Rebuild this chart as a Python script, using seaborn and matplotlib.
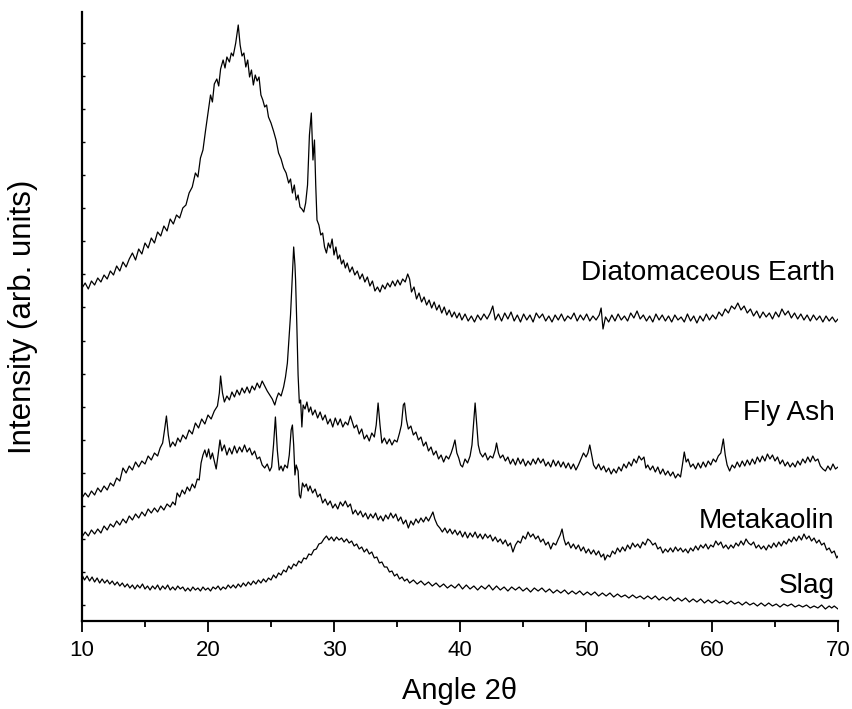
import numpy as np
import pandas as pd
import matplotlib
matplotlib.use("Agg")
import matplotlib.pyplot as plt
import seaborn as sns

# ---------------- data: (angle 2theta, intensity in arb. units, stacked patterns) ----------------
de_data = [
    (10.0, 317), (10.25, 322), (10.5, 316), (10.75, 324), (11.0, 320), (11.25, 327), (11.5, 323), (11.75, 330),
    (12.0, 326), (12.25, 334), (12.5, 330), (12.75, 339), (13.0, 334), (13.25, 343), (13.5, 338), (13.75, 346),
    (14.0, 352), (14.25, 345), (14.5, 356), (14.75, 351), (15.0, 362), (15.25, 357), (15.5, 367), (15.75, 362),
    (16.0, 373), (16.25, 369), (16.5, 379), (16.75, 374), (17.0, 386), (17.25, 381), (17.5, 390), (17.75, 387),
    (18.0, 397), (18.25, 400), (18.5, 412), (18.75, 418), (19.0, 432), (19.2, 428), (19.4, 447), (19.6, 455),
    (19.8, 474), (20.0, 492), (20.2, 510), (20.35, 503), (20.5, 521), (20.7, 526), (20.85, 519), (21.0, 536),
    (21.2, 545), (21.35, 537), (21.5, 548), (21.7, 543), (21.85, 552), (22.0, 549), (22.2, 562), (22.4, 580),
    (22.55, 560), (22.7, 549), (22.85, 552), (23.0, 538), (23.15, 545), (23.3, 528), (23.45, 535), (23.6, 520),
    (23.75, 530), (23.9, 524), (24.05, 528), (24.2, 510), (24.35, 505), (24.5, 498), (24.65, 500), (24.8, 488),
    (25.0, 482), (25.2, 474), (25.4, 465), (25.6, 452), (25.8, 446), (26.0, 437), (26.2, 432), (26.4, 422),
    (26.55, 426), (26.7, 412), (26.85, 420), (27.0, 405), (27.15, 410), (27.3, 398), (27.45, 396), (27.6, 393),
    (27.75, 402), (27.9, 420), (28.05, 470), (28.2, 492), (28.33, 445), (28.45, 465), (28.55, 420), (28.65, 385),
    (28.8, 380), (28.95, 370), (29.1, 372), (29.25, 358), (29.4, 352), (29.55, 362), (29.7, 357), (29.85, 366),
    (30.0, 350), (30.15, 358), (30.3, 346), (30.45, 350), (30.6, 341), (30.75, 345), (30.9, 337), (31.05, 342),
    (31.25, 333), (31.45, 338), (31.65, 330), (31.85, 334), (32.05, 326), (32.25, 331), (32.45, 323), (32.65, 328),
    (32.85, 319), (33.05, 324), (33.25, 314), (33.45, 318), (33.65, 313), (33.85, 320), (34.05, 316), (34.25, 322),
    (34.45, 318), (34.65, 324), (34.85, 319), (35.05, 325), (35.25, 320), (35.45, 326), (35.65, 323), (35.85, 331),
    (36.0, 326), (36.15, 313), (36.35, 318), (36.55, 306), (36.75, 312), (36.95, 303), (37.15, 308), (37.35, 300),
    (37.55, 305), (37.75, 297), (37.95, 303), (38.15, 295), (38.35, 300), (38.55, 292), (38.75, 298), (38.95, 290),
    (39.15, 295), (39.35, 288), (39.55, 293), (39.75, 287), (39.95, 292), (40.15, 285), (40.4, 291), (40.65, 284),
    (40.9, 289), (41.15, 283), (41.4, 290), (41.65, 285), (41.9, 291), (42.15, 286), (42.4, 292), (42.6, 299),
    (42.8, 285), (43.05, 291), (43.3, 284), (43.55, 292), (43.8, 286), (44.05, 293), (44.3, 284), (44.55, 290),
    (44.8, 283), (45.05, 291), (45.3, 285), (45.55, 290), (45.8, 283), (46.05, 292), (46.3, 287), (46.55, 291),
    (46.8, 284), (47.05, 289), (47.3, 283), (47.55, 290), (47.8, 285), (48.05, 291), (48.3, 284), (48.55, 289),
    (48.8, 286), (49.05, 292), (49.3, 284), (49.55, 290), (49.8, 285), (50.05, 291), (50.3, 284), (50.55, 289),
    (50.8, 285), (51.05, 290), (51.2, 297), (51.35, 276), (51.55, 288), (51.8, 283), (52.05, 290), (52.3, 284),
    (52.55, 291), (52.8, 285), (53.05, 289), (53.3, 284), (53.55, 292), (53.8, 287), (54.05, 294), (54.3, 286),
    (54.55, 290), (54.8, 284), (55.05, 289), (55.3, 283), (55.55, 291), (55.8, 285), (56.05, 290), (56.3, 284),
    (56.55, 289), (56.8, 283), (57.05, 290), (57.3, 285), (57.55, 288), (57.8, 283), (58.05, 291), (58.3, 284),
    (58.55, 289), (58.8, 282), (59.05, 289), (59.3, 284), (59.55, 291), (59.8, 285), (60.05, 290), (60.3, 286),
    (60.55, 293), (60.8, 289), (61.05, 296), (61.3, 292), (61.55, 299), (61.8, 296), (62.05, 302), (62.3, 295),
    (62.55, 299), (62.8, 292), (63.05, 296), (63.3, 289), (63.55, 294), (63.8, 287), (64.05, 293), (64.3, 288),
    (64.55, 292), (64.8, 286), (65.05, 293), (65.3, 288), (65.55, 296), (65.8, 290), (66.05, 294), (66.3, 287),
    (66.55, 292), (66.8, 286), (67.05, 291), (67.3, 285), (67.55, 290), (67.8, 284), (68.05, 290), (68.3, 285),
    (68.55, 289), (68.8, 283), (69.05, 289), (69.3, 284), (69.55, 288), (69.8, 283), (70.0, 286),
]

fa_data = [
    (10.0, 107), (10.25, 112), (10.5, 108), (10.75, 114), (11.0, 110), (11.25, 117), (11.5, 113), (11.75, 119),
    (12.0, 115), (12.25, 122), (12.5, 119), (12.75, 127), (13.0, 124), (13.25, 137), (13.5, 132), (13.75, 139),
    (14.0, 135), (14.25, 143), (14.5, 138), (14.75, 144), (15.0, 141), (15.25, 149), (15.5, 145), (15.75, 152),
    (16.0, 149), (16.2, 157), (16.4, 162), (16.55, 175), (16.7, 189), (16.85, 170), (17.0, 158), (17.2, 163),
    (17.4, 159), (17.6, 167), (17.8, 163), (18.0, 170), (18.25, 166), (18.5, 175), (18.75, 171), (19.0, 182),
    (19.25, 177), (19.5, 186), (19.75, 181), (20.0, 190), (20.25, 186), (20.5, 194), (20.75, 199), (20.9, 212),
    (21.0, 229), (21.15, 212), (21.3, 203), (21.5, 209), (21.7, 205), (21.9, 213), (22.1, 208), (22.3, 215),
    (22.5, 210), (22.7, 217), (22.9, 212), (23.1, 218), (23.3, 212), (23.5, 219), (23.7, 215), (23.9, 222),
    (24.1, 217), (24.3, 224), (24.5, 219), (24.7, 214), (24.9, 210), (25.1, 206), (25.3, 200), (25.45, 207),
    (25.6, 212), (25.8, 209), (26.0, 218), (26.15, 228), (26.3, 242), (26.45, 270), (26.55, 290), (26.65, 317),
    (26.8, 358), (26.9, 340), (26.95, 325), (27.05, 280), (27.15, 230), (27.25, 202), (27.35, 205), (27.45, 178),
    (27.55, 200), (27.7, 196), (27.85, 203), (28.0, 193), (28.15, 198), (28.3, 190), (28.5, 195), (28.7, 187),
    (28.9, 193), (29.1, 185), (29.3, 190), (29.5, 181), (29.7, 186), (29.9, 178), (30.1, 187), (30.3, 180),
    (30.5, 186), (30.7, 178), (30.9, 183), (31.1, 180), (31.3, 189), (31.45, 183), (31.6, 177), (31.8, 180),
    (32.0, 171), (32.2, 176), (32.4, 166), (32.6, 170), (32.8, 164), (33.0, 172), (33.2, 168), (33.35, 180),
    (33.5, 202), (33.65, 180), (33.8, 162), (34.0, 167), (34.2, 161), (34.4, 166), (34.6, 160), (34.8, 165),
    (35.0, 163), (35.2, 172), (35.35, 180), (35.5, 200), (35.6, 202), (35.75, 185), (35.9, 176), (36.1, 179),
    (36.3, 170), (36.5, 173), (36.7, 165), (36.9, 168), (37.1, 159), (37.3, 163), (37.5, 154), (37.7, 158),
    (37.9, 150), (38.1, 154), (38.3, 146), (38.5, 150), (38.7, 143), (38.9, 149), (39.1, 146), (39.3, 152),
    (39.45, 158), (39.6, 165), (39.75, 152), (39.9, 147), (40.05, 140), (40.2, 138), (40.4, 146), (40.6, 142),
    (40.8, 149), (40.95, 160), (41.1, 185), (41.2, 202), (41.3, 185), (41.45, 160), (41.6, 152), (41.8, 148),
    (42.0, 152), (42.2, 145), (42.4, 149), (42.6, 147), (42.8, 155), (42.9, 162), (43.05, 152), (43.2, 147),
    (43.4, 150), (43.6, 144), (43.8, 148), (44.0, 141), (44.2, 146), (44.4, 140), (44.6, 147), (44.8, 141),
    (45.0, 146), (45.2, 139), (45.4, 144), (45.6, 140), (45.8, 146), (46.0, 141), (46.2, 147), (46.4, 142),
    (46.6, 146), (46.8, 139), (47.0, 143), (47.2, 138), (47.4, 145), (47.6, 139), (47.8, 144), (48.0, 138),
    (48.2, 143), (48.4, 137), (48.6, 142), (48.8, 136), (49.0, 141), (49.2, 135), (49.4, 140), (49.6, 146),
    (49.8, 152), (50.0, 148), (50.15, 152), (50.3, 160), (50.45, 150), (50.6, 140), (50.8, 136), (51.0, 141),
    (51.2, 135), (51.4, 139), (51.6, 133), (51.8, 137), (52.0, 131), (52.2, 136), (52.4, 132), (52.6, 138),
    (52.8, 134), (53.0, 141), (53.2, 137), (53.4, 143), (53.6, 139), (53.8, 146), (54.0, 142), (54.2, 149),
    (54.4, 145), (54.6, 148), (54.75, 137), (54.9, 140), (55.1, 135), (55.3, 139), (55.5, 133), (55.7, 138),
    (55.9, 131), (56.1, 136), (56.3, 130), (56.5, 134), (56.7, 129), (56.9, 133), (57.1, 127), (57.3, 131),
    (57.5, 128), (57.65, 140), (57.8, 153), (57.95, 143), (58.1, 146), (58.3, 138), (58.5, 141), (58.7, 136),
    (58.9, 142), (59.1, 137), (59.3, 143), (59.5, 138), (59.7, 144), (59.9, 140), (60.1, 146), (60.3, 143),
    (60.5, 149), (60.7, 152), (60.9, 166), (61.05, 150), (61.2, 140), (61.4, 134), (61.6, 140), (61.8, 137),
    (62.0, 143), (62.2, 138), (62.4, 144), (62.6, 139), (62.8, 145), (63.0, 140), (63.2, 146), (63.4, 141),
    (63.6, 148), (63.8, 143), (64.0, 149), (64.2, 144), (64.4, 151), (64.6, 146), (64.8, 150), (65.0, 144),
    (65.2, 148), (65.4, 141), (65.6, 145), (65.8, 139), (66.0, 143), (66.2, 138), (66.4, 142), (66.6, 138),
    (66.8, 144), (67.0, 140), (67.2, 146), (67.4, 142), (67.6, 148), (67.8, 143), (68.0, 149), (68.2, 144),
    (68.4, 146), (68.6, 139), (68.8, 136), (69.0, 134), (69.2, 139), (69.4, 135), (69.6, 141), (69.8, 136),
    (70.0, 138),
]

mk_data = [
    (10.0, 68), (10.25, 73), (10.5, 69), (10.75, 75), (11.0, 71), (11.25, 76), (11.5, 72), (11.75, 79),
    (12.0, 75), (12.25, 81), (12.5, 78), (12.75, 84), (13.0, 80), (13.25, 86), (13.5, 82), (13.75, 89),
    (14.0, 85), (14.25, 91), (14.5, 87), (14.75, 93), (15.0, 89), (15.25, 96), (15.5, 92), (15.75, 97),
    (16.0, 93), (16.25, 99), (16.5, 95), (16.75, 101), (17.0, 98), (17.2, 103), (17.4, 100), (17.55, 112),
    (17.75, 108), (17.95, 115), (18.15, 111), (18.35, 118), (18.55, 114), (18.75, 121), (18.95, 117), (19.15, 126),
    (19.3, 125), (19.45, 142), (19.6, 150), (19.75, 155), (19.9, 148), (20.05, 156), (20.2, 146), (20.35, 152),
    (20.5, 144), (20.65, 136), (20.8, 150), (20.95, 165), (21.1, 154), (21.3, 160), (21.5, 150), (21.7, 157),
    (21.9, 151), (22.1, 159), (22.3, 152), (22.5, 158), (22.7, 153), (22.9, 160), (23.1, 153), (23.3, 157),
    (23.5, 150), (23.7, 154), (23.9, 146), (24.1, 148), (24.3, 140), (24.5, 137), (24.7, 141), (24.9, 134),
    (25.05, 138), (25.2, 160), (25.35, 188), (25.5, 155), (25.65, 135), (25.8, 139), (25.95, 134), (26.1, 140),
    (26.3, 137), (26.45, 150), (26.6, 175), (26.7, 180), (26.8, 160), (26.9, 130), (27.0, 140), (27.15, 134),
    (27.25, 110), (27.35, 107), (27.5, 122), (27.65, 118), (27.8, 121), (27.95, 114), (28.1, 119), (28.3, 112),
    (28.5, 116), (28.7, 108), (28.9, 111), (29.1, 102), (29.3, 106), (29.5, 100), (29.7, 104), (29.9, 97),
    (30.1, 101), (30.3, 96), (30.5, 103), (30.7, 99), (30.9, 104), (31.1, 98), (31.3, 101), (31.5, 91),
    (31.7, 95), (31.9, 90), (32.1, 94), (32.3, 88), (32.5, 92), (32.7, 86), (32.9, 91), (33.1, 87),
    (33.3, 92), (33.5, 85), (33.7, 89), (33.9, 84), (34.1, 90), (34.3, 86), (34.5, 92), (34.7, 87),
    (34.9, 91), (35.1, 84), (35.3, 88), (35.5, 81), (35.7, 85), (35.9, 77), (36.1, 84), (36.3, 80),
    (36.5, 86), (36.7, 82), (36.9, 87), (37.1, 83), (37.3, 88), (37.5, 84), (37.7, 89), (37.85, 93),
    (38.0, 86), (38.2, 80), (38.4, 77), (38.6, 73), (38.8, 77), (39.0, 72), (39.2, 76), (39.4, 71),
    (39.6, 75), (39.8, 70), (40.0, 74), (40.2, 68), (40.4, 73), (40.6, 67), (40.8, 72), (41.0, 68),
    (41.2, 73), (41.4, 67), (41.6, 71), (41.8, 66), (42.0, 71), (42.2, 67), (42.4, 70), (42.6, 64),
    (42.8, 68), (43.0, 63), (43.2, 66), (43.4, 61), (43.6, 65), (43.8, 59), (44.0, 62), (44.2, 53),
    (44.4, 60), (44.6, 64), (44.8, 62), (45.0, 69), (45.2, 66), (45.4, 73), (45.6, 68), (45.8, 71),
    (46.0, 66), (46.2, 69), (46.4, 63), (46.6, 66), (46.8, 60), (47.0, 63), (47.2, 56), (47.4, 62),
    (47.6, 60), (47.8, 66), (47.95, 70), (48.1, 76), (48.25, 66), (48.4, 60), (48.6, 63), (48.8, 57),
    (49.0, 61), (49.2, 56), (49.4, 60), (49.6, 54), (49.8, 58), (50.0, 52), (50.2, 56), (50.4, 51),
    (50.6, 55), (50.8, 50), (51.0, 54), (51.2, 48), (51.4, 51), (51.5, 45), (51.7, 50), (51.9, 48),
    (52.1, 54), (52.3, 51), (52.5, 57), (52.7, 53), (52.9, 58), (53.1, 54), (53.3, 60), (53.5, 56),
    (53.7, 62), (53.9, 58), (54.1, 61), (54.3, 57), (54.5, 63), (54.7, 60), (54.9, 66), (55.1, 64),
    (55.3, 60), (55.5, 62), (55.7, 56), (55.9, 58), (56.1, 52), (56.3, 56), (56.5, 53), (56.7, 57),
    (56.9, 53), (57.1, 58), (57.3, 54), (57.5, 57), (57.7, 53), (57.9, 56), (58.1, 52), (58.3, 57),
    (58.5, 54), (58.7, 59), (58.9, 55), (59.1, 60), (59.3, 57), (59.5, 61), (59.7, 56), (59.9, 60),
    (60.1, 58), (60.3, 64), (60.5, 60), (60.7, 63), (60.9, 57), (61.1, 60), (61.3, 56), (61.5, 60),
    (61.7, 57), (61.9, 62), (62.1, 59), (62.3, 64), (62.5, 60), (62.7, 66), (62.9, 62), (63.1, 60),
    (63.3, 63), (63.5, 57), (63.7, 60), (63.9, 56), (64.1, 59), (64.3, 55), (64.5, 60), (64.7, 57),
    (64.9, 62), (65.1, 58), (65.3, 63), (65.5, 59), (65.7, 64), (65.9, 61), (66.1, 66), (66.3, 63),
    (66.5, 68), (66.7, 64), (66.9, 69), (67.1, 65), (67.3, 71), (67.5, 66), (67.7, 69), (67.9, 64),
    (68.1, 67), (68.3, 62), (68.5, 65), (68.7, 60), (68.9, 62), (69.1, 55), (69.3, 57), (69.5, 52),
    (69.7, 54), (69.9, 47), (70.0, 49),
]

slag_data = [
    (10.0, 30), (10.2, 25), (10.4, 29), (10.6, 24), (10.8, 28), (11.0, 23), (11.2, 27), (11.4, 22),
    (11.6, 26), (11.8, 22), (12.0, 25), (12.2, 21), (12.4, 24), (12.6, 20), (12.8, 23), (13.0, 19),
    (13.2, 22), (13.4, 18), (13.6, 21), (13.8, 17), (14.0, 20), (14.2, 16), (14.4, 20), (14.6, 17),
    (14.8, 21), (15.0, 16), (15.2, 19), (15.4, 15), (15.6, 19), (15.8, 16), (16.0, 20), (16.2, 15),
    (16.4, 19), (16.6, 16), (16.8, 20), (17.0, 15), (17.2, 18), (17.4, 15), (17.6, 19), (17.8, 16),
    (18.0, 18), (18.2, 14), (18.4, 17), (18.6, 14), (18.8, 18), (19.0, 15), (19.2, 17), (19.4, 14),
    (19.6, 18), (19.8, 15), (20.0, 17), (20.2, 14), (20.4, 18), (20.6, 16), (20.8, 19), (21.0, 15),
    (21.2, 18), (21.4, 16), (21.6, 20), (21.8, 17), (22.0, 20), (22.2, 17), (22.4, 21), (22.6, 18),
    (22.8, 22), (23.0, 19), (23.2, 23), (23.4, 20), (23.6, 24), (23.8, 21), (24.0, 25), (24.2, 22),
    (24.4, 26), (24.6, 23), (24.8, 27), (25.0, 25), (25.2, 30), (25.4, 27), (25.6, 32), (25.8, 30),
    (26.0, 35), (26.2, 33), (26.4, 39), (26.6, 36), (26.8, 41), (27.0, 39), (27.2, 44), (27.4, 42),
    (27.6, 47), (27.8, 46), (28.0, 51), (28.2, 50), (28.4, 55), (28.6, 56), (28.8, 61), (29.0, 62),
    (29.2, 66), (29.4, 69), (29.6, 65), (29.8, 68), (30.0, 64), (30.2, 68), (30.4, 65), (30.6, 67),
    (30.8, 63), (31.0, 66), (31.2, 62), (31.4, 64), (31.6, 59), (31.8, 61), (32.0, 56), (32.2, 58),
    (32.4, 53), (32.6, 56), (32.8, 51), (33.0, 53), (33.2, 47), (33.4, 48), (33.6, 42), (33.8, 43),
    (34.0, 38), (34.2, 38), (34.4, 33), (34.6, 34), (34.8, 29), (35.0, 31), (35.2, 26), (35.4, 28),
    (35.6, 24), (35.8, 26), (36.0, 22), (36.3, 25), (36.6, 21), (36.9, 24), (37.2, 20), (37.5, 23),
    (37.8, 19), (38.1, 22), (38.4, 18), (38.7, 21), (39.0, 17), (39.3, 20), (39.6, 17), (39.9, 21),
    (40.2, 16), (40.5, 20), (40.8, 16), (41.1, 19), (41.4, 15), (41.7, 19), (42.0, 16), (42.3, 20),
    (42.6, 15), (42.9, 19), (43.2, 15), (43.5, 18), (43.8, 14), (44.1, 18), (44.4, 15), (44.7, 18),
    (45.0, 14), (45.3, 17), (45.6, 13), (45.9, 17), (46.2, 14), (46.5, 17), (46.8, 13), (47.1, 16),
    (47.4, 12), (47.7, 15), (48.0, 12), (48.3, 15), (48.6, 11), (48.9, 14), (49.2, 11), (49.5, 14),
    (49.8, 10), (50.1, 13), (50.4, 10), (50.7, 13), (51.0, 9), (51.3, 12), (51.6, 9), (51.9, 12),
    (52.2, 8), (52.5, 11), (52.8, 8), (53.1, 10), (53.4, 7), (53.7, 10), (54.0, 7), (54.3, 9),
    (54.6, 6), (54.9, 9), (55.2, 6), (55.5, 9), (55.8, 5), (56.1, 8), (56.4, 5), (56.7, 8),
    (57.0, 4), (57.3, 7), (57.6, 4), (57.9, 7), (58.2, 3), (58.5, 6), (58.8, 3), (59.1, 6),
    (59.4, 2), (59.7, 5), (60.0, 2), (60.3, 5), (60.6, 2), (60.9, 4), (61.2, 1), (61.5, 4),
    (61.8, 1), (62.1, 3), (62.4, 0), (62.7, 3), (63.0, 0), (63.3, 2), (63.6, -1), (63.9, 2),
    (64.2, -1), (64.5, 2), (64.8, -1), (65.1, 1), (65.4, -2), (65.7, 1), (66.0, -1), (66.3, 1),
    (66.6, -2), (66.9, 0), (67.2, -2), (67.5, 0), (67.8, -3), (68.1, -1), (68.4, -3), (68.7, 0),
    (69.0, -4), (69.3, -1), (69.5, -3), (69.7, -1), (70.0, -4),
]

series_names = ["Diatomaceous Earth", "Fly Ash", "Metakaolin", "Slag"]
x_ticks = [10, 20, 30, 40, 50, 60, 70]

frames = []
for name, pts in zip(series_names, [de_data, fa_data, mk_data, slag_data]):
    ang, inten = zip(*pts)
    frames.append(pd.DataFrame({"angle": ang, "intensity": inten, "sample": name}))
df = pd.concat(frames, ignore_index=True)

# ---------------- style ----------------
sns.set_theme(style="ticks")
plt.rcParams["font.family"] = ["Liberation Sans", "DejaVu Sans"]

fig = plt.figure(figsize=(8.53, 7.09), dpi=100)
ax = fig.add_axes([82 / 853, 88 / 709, 756 / 853, 609 / 709])

sns.lineplot(data=df, x="angle", y="intensity", units="sample", estimator=None,
             color="black", linewidth=0.9, sort=False, ax=ax, legend=False)

ax.set_xlim(10, 70)
ax.set_ylim(-16, 593)
ax.set_xticks(x_ticks)
ax.set_xticks(np.arange(15, 70, 10), minor=True)
ax.set_xticklabels([str(t) for t in x_ticks], fontsize=16)
ax.set_yticks(np.arange(0, 593, 33.06))
ax.set_yticklabels([])

ax.tick_params(axis="x", which="major", direction="out", length=8, width=1.3, pad=6, colors="black")
ax.tick_params(axis="x", which="minor", direction="out", length=4.5, width=1.3, colors="black")
ax.tick_params(axis="y", which="major", direction="in", length=2.5, width=1.0, colors="black")

for s in ["top", "right"]:
    ax.spines[s].set_visible(False)
for s in ["left", "bottom"]:
    ax.spines[s].set_linewidth(1.6)
    ax.spines[s].set_color("black")

ax.set_xlabel("Angle 2\u03b8", fontsize=21, labelpad=11, color="black")
ax.set_ylabel("Intensity (arb. units)", fontsize=22.5, color="black")
ax.yaxis.set_label_coords(-0.058, 0.5)

label_y = [325, 185, 77, 12]
for name, ly in zip(series_names, label_y):
    ax.text(69.75, ly, name, ha="right", va="baseline", fontsize=20.2, color="black")

fig.savefig("out.png", dpi=100)
